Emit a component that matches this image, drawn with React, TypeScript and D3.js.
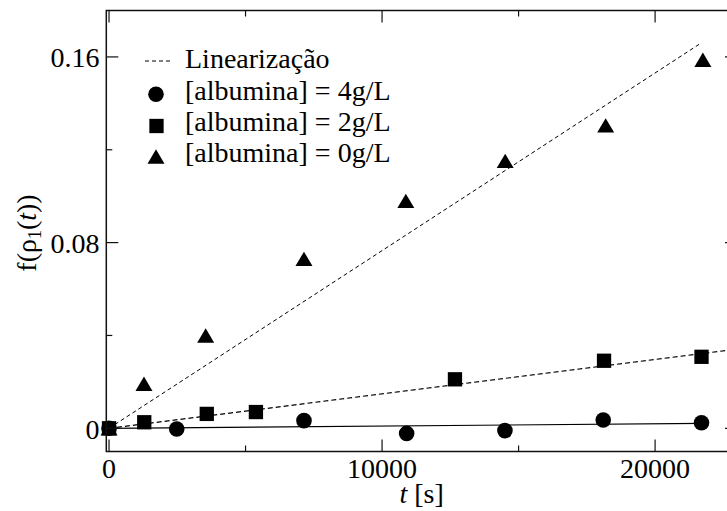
import React, { useEffect, useState } from "react";
import * as d3 from "d3";

// ---- data ----
const tTri = [0, 1280, 3540, 7140, 10870, 14510, 18190, 21750];
const yTri = [0, 0.0192, 0.04, 0.073, 0.098, 0.1152, 0.1305, 0.1588];

const tSq = [0, 1290, 3580, 5380, 12670, 18130, 21700];
const ySq = [0, 0.0026, 0.0062, 0.007, 0.0211, 0.0291, 0.0308];

const tCirc = [0, 2480, 7140, 10900, 14500, 18100, 21700];
const yCirc = [0, -0.0003, 0.0033, -0.0022, -0.001, 0.0036, 0.0024];

// linear fits: [t start, t end], [y start, y end]
const fitTriT = [0, 21700];
const fitTriY = [0, 0.1661];
const fitSqT = [0, 23000];
const fitSqY = [0, 0.0341];
const fitCircT = [0, 21750];
const fitCircY = [0, 0.0021];

const xMajor = [0, 10000, 20000];
const xMinor = [5000, 15000];
const yMajor = [0, 0.08, 0.16];
const yMinor = [0.04, 0.12];
const yTickLabels = ["0", "0.08", "0.16"];
const xTickLabels = ["0", "10000", "20000"];

const legendLabels = [
  "Linearização",
  "[albumina] = 4g/L",
  "[albumina] = 2g/L",
  "[albumina] = 0g/L",
];

const FAM = "Times New Roman";

function T(props: any) {
  const { children, ...rest } = props;
  return (
    <text {...rest} fontSize={28} fill="#000" style={{ fontFamily: `"${FAM}"` }}>
      {children}
    </text>
  );
}

export default function App() {
  const [tick, setTick] = useState(0);
  useEffect(() => {
    const d: any = document as any;
    if (d.fonts && d.fonts.ready) d.fonts.ready.then(() => setTick(1));
  }, []);

  const W = 727;
  const H = 511;
  const x = d3.scaleLinear().domain([-100, 23000]).range([106.3, 737]);
  const y = d3.scaleLinear().domain([-0.01, 0.18]).range([451.5, 10.5]);

  const x0 = x.range()[0];
  const x1 = x.range()[1];
  const yTop = y.range()[1];
  const yBot = y.range()[0];

  const line = d3
    .line<[number, number]>()
    .x((d) => x(d[0]))
    .y((d) => y(d[1]));

  const fitPath = (ts: number[], ys: number[]) =>
    line([
      [ts[0], ys[0]],
      [ts[1], ys[1]],
    ]) as string;

  const triPath = (cx: number, cy: number) => {
    const hw = 8.5;
    const hh = 7.2;
    return `M${cx},${cy - hh}L${cx + hw},${cy + hh}L${cx - hw},${cy + hh}Z`;
  };
  const SQ = 14.3;
  const R = 7.8;

  const stroke = "#111";
  const major = 12;
  const minor = 6;

  const legX = 156;
  const legTextX = 185;
  const legBase = [68.3, 99.6, 131, 162.3];

  return (
    <svg
      key={tick}
      width={W}
      height={H}
      style={{ position: "absolute", left: 0, top: 0, background: "#fff" }}
    >
      <rect x={0} y={0} width={W} height={H} fill="#fff" />
      {/* fit lines */}
      <path d={fitPath(fitTriT, fitTriY)} stroke="#000" strokeWidth={1} strokeDasharray="4,3" fill="none" />
      <path d={fitPath(fitSqT, fitSqY)} stroke="#000" strokeWidth={1.2} strokeDasharray="5,3" fill="none" />
      <path d={fitPath(fitCircT, fitCircY)} stroke="#000" strokeWidth={1.2} fill="none" />

      {/* markers */}
      {tCirc.map((t, i) => (
        <circle key={"c" + i} cx={x(t)} cy={y(yCirc[i])} r={R} fill="#000" />
      ))}
      {tSq.map((t, i) => (
        <rect key={"s" + i} x={x(t) - SQ / 2} y={y(ySq[i]) - SQ / 2} width={SQ} height={SQ} fill="#000" />
      ))}
      {tTri.map((t, i) => (
        <path key={"t" + i} d={triPath(x(t), y(yTri[i]))} fill="#000" />
      ))}

      {/* frame */}
      <rect x={x0} y={yTop} width={x1 - x0} height={yBot - yTop} fill="none" stroke={stroke} strokeWidth={1.5} />
      {xMajor.map((v) => (
        <g key={"xm" + v}>
          <line x1={x(v)} x2={x(v)} y1={yBot} y2={yBot - major} stroke={stroke} strokeWidth={1.2} />
          <line x1={x(v)} x2={x(v)} y1={yTop} y2={yTop + major} stroke={stroke} strokeWidth={1.2} />
        </g>
      ))}
      {xMinor.map((v) => (
        <g key={"xn" + v}>
          <line x1={x(v)} x2={x(v)} y1={yBot} y2={yBot - minor} stroke={stroke} strokeWidth={1.2} />
          <line x1={x(v)} x2={x(v)} y1={yTop} y2={yTop + minor} stroke={stroke} strokeWidth={1.2} />
        </g>
      ))}
      {yMajor.map((v) => (
        <g key={"ym" + v}>
          <line x1={x0} x2={x0 + major} y1={y(v)} y2={y(v)} stroke={stroke} strokeWidth={1.2} />
          <line x1={x1} x2={x1 - major} y1={y(v)} y2={y(v)} stroke={stroke} strokeWidth={1.2} />
        </g>
      ))}
      {yMinor.map((v) => (
        <g key={"yn" + v}>
          <line x1={x0} x2={x0 + minor} y1={y(v)} y2={y(v)} stroke={stroke} strokeWidth={1.2} />
          <line x1={x1} x2={x1 - minor} y1={y(v)} y2={y(v)} stroke={stroke} strokeWidth={1.2} />
        </g>
      ))}

      {/* tick labels */}
      {xMajor.map((v, i) => (
        <T key={"xl" + v} x={x(v)} y={478} textAnchor="middle">
          {xTickLabels[i]}
        </T>
      ))}
      {yMajor.map((v, i) => (
        <T key={"yl" + v} x={99.5} y={y(v) + 10.5} textAnchor="end">
          {yTickLabels[i]}
        </T>
      ))}

      {/* axis labels */}
      <T x={(x0 + x1) / 2} y={503} textAnchor="middle">
        <tspan fontStyle="italic">t</tspan>
        <tspan> [s]</tspan>
      </T>
      <T transform={`translate(36, ${(yTop + yBot) / 2 + 2}) rotate(-90)`} textAnchor="middle">
        <tspan>f(ρ</tspan>
        <tspan fontSize={18} dy={5}>1</tspan>
        <tspan dy={-5}>(</tspan>
        <tspan fontStyle="italic">t</tspan>
        <tspan>))</tspan>
      </T>

      {/* legend */}
      <line x1={legX - 11} x2={legX + 14} y1={61} y2={61} stroke="#000" strokeWidth={1} strokeDasharray="4,3" />
      <circle cx={legX} cy={94.3} r={R} fill="#000" />
      <rect x={legX + 0.5 - SQ / 2} y={126 - SQ / 2} width={SQ} height={SQ} fill="#000" />
      <path d={triPath(legX, 156.5)} fill="#000" />
      {legendLabels.map((l, i) => (
        <T key={l} x={legTextX} y={legBase[i]}>
          {l}
        </T>
      ))}
    </svg>
  );
}
